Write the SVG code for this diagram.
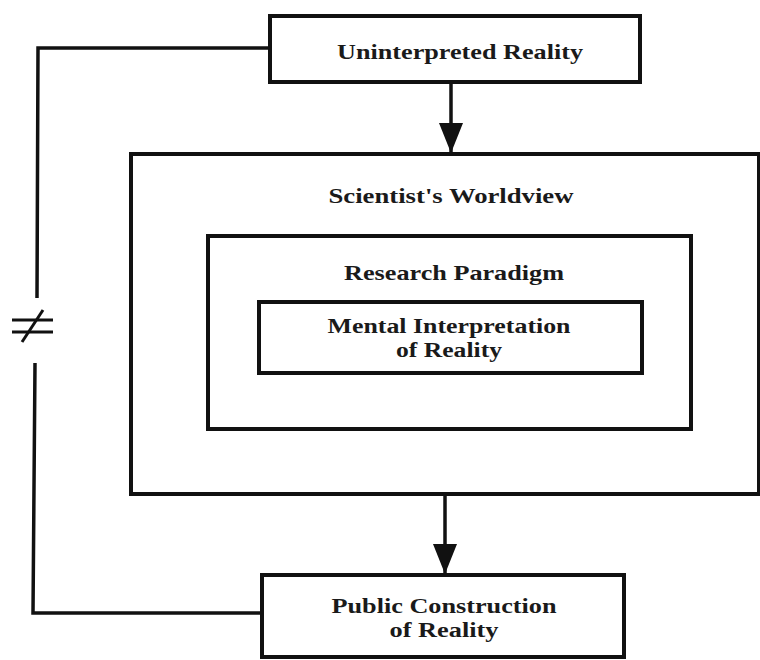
<svg xmlns="http://www.w3.org/2000/svg" width="760" height="660" viewBox="0 0 760 660">
<style>
.box{fill:none;stroke:#111;stroke-width:4}
.ln{fill:none;stroke:#111;stroke-width:3.5}
.t{font-family:"Liberation Serif","Times New Roman",serif;font-weight:bold;font-size:21px;fill:#1a1a1a;text-anchor:middle}
.t2{font-size:20px}
</style>
<defs>
<marker id="ah" markerUnits="userSpaceOnUse" markerWidth="32" markerHeight="26" refX="30" refY="13" orient="auto" viewBox="0 0 32 26">
<path d="M0,1 L30,13 L0,25 Z" fill="#111"/>
</marker>
</defs>
<rect width="760" height="660" fill="#fff"/>
<g id="connectors">
<line class="ln" x1="451" y1="82" x2="451" y2="153" marker-end="url(#ah)"/>
<line class="ln" x1="445" y1="495" x2="445" y2="574" marker-end="url(#ah)"/>
<path class="ln" d="M270,48 H38 L37,298"/>
<path class="ln" d="M35,363 L33,613 H262"/>
<g id="neq" stroke="#111" stroke-width="3">
<line x1="12" y1="320" x2="53" y2="320"/>
<line x1="12" y1="332" x2="53" y2="332"/>
<line x1="22" y1="342" x2="43" y2="310"/>
</g>
</g>
<g id="uninterpreted">
<rect class="box" x="270" y="16" width="370" height="66"/>
<text class="t" x="460" y="59" textLength="246" lengthAdjust="spacingAndGlyphs">Uninterpreted Reality</text>
</g>
<g id="worldview">
<rect class="box" x="131" y="154" width="628" height="340"/>
<text class="t" x="451" y="203" textLength="245" lengthAdjust="spacingAndGlyphs">Scientist's Worldview</text>
</g>
<g id="paradigm">
<rect class="box" x="208" y="236" width="483" height="193"/>
<text class="t" x="454" y="280" textLength="220" lengthAdjust="spacingAndGlyphs">Research Paradigm</text>
</g>
<g id="mental">
<rect class="box" x="259" y="302" width="383" height="71"/>
<text class="t t2" x="449" y="333" textLength="243" lengthAdjust="spacingAndGlyphs">Mental Interpretation</text>
<text class="t t2" x="449" y="357" textLength="106" lengthAdjust="spacingAndGlyphs">of Reality</text>
</g>
<g id="public">
<rect class="box" x="262" y="575" width="362" height="82"/>
<text class="t t2" x="444" y="613" textLength="225" lengthAdjust="spacingAndGlyphs">Public Construction</text>
<text class="t t2" x="444" y="637" textLength="109" lengthAdjust="spacingAndGlyphs">of Reality</text>
</g>
</svg>
